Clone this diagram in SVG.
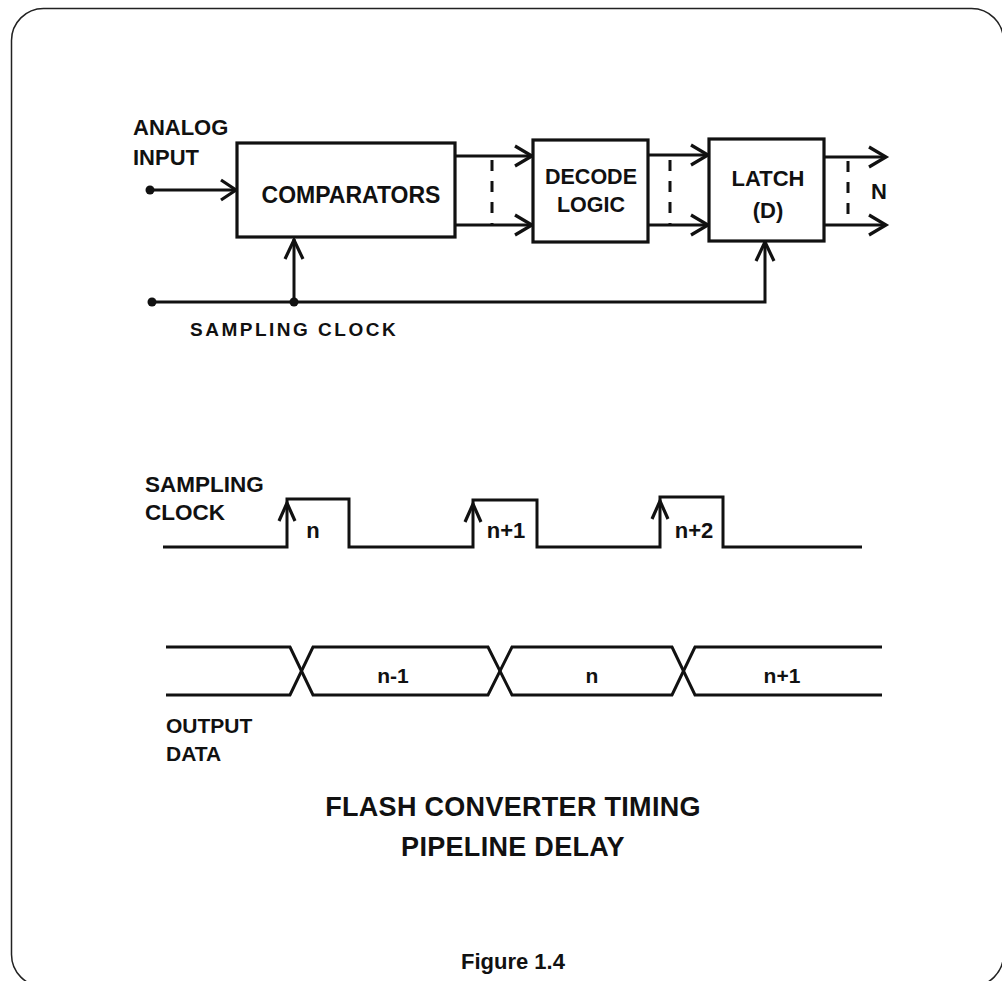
<svg xmlns="http://www.w3.org/2000/svg" width="1002" height="981" viewBox="0 0 1002 981">
<defs>
<style>
.ln{fill:none;stroke:#111;stroke-width:3;stroke-linejoin:miter}
.box{fill:#fff;stroke:#111;stroke-width:3.2}
.ah{fill:none;stroke:#111;stroke-width:3.2}
.dash{fill:none;stroke:#111;stroke-width:3;stroke-dasharray:11 10}
.t{font-family:"Liberation Sans",Arial,sans-serif;font-weight:bold;fill:#111}
.dot{fill:#111}
</style>
</defs>
<rect x="0" y="0" width="1002" height="981" fill="#fff"/>
<rect id="frame" x="11.5" y="8.5" width="992" height="978" rx="32" fill="none" stroke="#222" stroke-width="1.5"/>

<g id="connectors">
  <line class="ln" x1="150" y1="190" x2="236" y2="190"/>
  <polyline class="ah" points="221,180 236,190 221,200"/>
  <polyline class="ln" points="152,302 765,302 765,242"/>
  <line class="ln" x1="294" y1="302" x2="294" y2="239"/>
  <polyline class="ah" points="285,259 294,240 303,259"/>
  <polyline class="ah" points="756,261 765,242 774,261"/>
  <line class="ln" x1="455" y1="156" x2="532" y2="156"/>
  <line class="ln" x1="455" y1="225" x2="532" y2="225"/>
  <polyline class="ah" points="515,146 532,156 515,166"/>
  <polyline class="ah" points="515,215 532,225 515,235"/>
  <line class="dash" x1="492" y1="160" x2="492" y2="224"/>
  <line class="ln" x1="648" y1="155" x2="708" y2="155"/>
  <line class="ln" x1="648" y1="225" x2="708" y2="225"/>
  <polyline class="ah" points="691,145 708,155 691,165"/>
  <polyline class="ah" points="691,215 708,225 691,235"/>
  <line class="dash" x1="670" y1="160" x2="670" y2="224"/>
  <line class="ln" x1="824" y1="157" x2="886" y2="157"/>
  <line class="ln" x1="824" y1="225" x2="886" y2="225"/>
  <polyline class="ah" points="869,147 886,157 869,167"/>
  <polyline class="ah" points="869,215 886,225 869,235"/>
  <line class="dash" x1="848" y1="161" x2="848" y2="224"/>
</g>
<circle class="dot" cx="150" cy="190" r="4.5"/>
<circle class="dot" cx="152" cy="302" r="4.5"/>
<circle class="dot" cx="294" cy="302" r="4.5"/>

<g id="comparators">
  <rect class="box" x="237" y="143" width="218" height="94"/>
  <text class="t" x="351" y="203" font-size="23" text-anchor="middle">COMPARATORS</text>
</g>
<g id="decode">
  <rect class="box" x="533" y="140" width="115" height="102"/>
  <text class="t" x="591" y="184" font-size="21.5" text-anchor="middle">DECODE</text>
  <text class="t" x="591" y="212" font-size="21.5" text-anchor="middle">LOGIC</text>
</g>
<g id="latch">
  <rect class="box" x="709" y="139" width="115" height="102"/>
  <text class="t" x="768" y="186" font-size="22" text-anchor="middle">LATCH</text>
  <text class="t" x="768" y="218" font-size="22" text-anchor="middle">(D)</text>
</g>

<g id="labels-top">
  <text class="t" x="133" y="135" font-size="22">ANALOG</text>
  <text class="t" x="133" y="165" font-size="22">INPUT</text>
  <text class="t" x="871" y="199" font-size="22">N</text>
  <text class="t" x="190" y="336" font-size="19" letter-spacing="2.5">SAMPLING CLOCK</text>
</g>

<g id="clock-wave">
  <text class="t" x="145" y="492" font-size="22.5">SAMPLING</text>
  <text class="t" x="145" y="520" font-size="22.5">CLOCK</text>
  <polyline class="ln" points="163,547 287,547 287,499 349,499 349,547 473,547 473,500 537,500 537,547 660,547 660,497 723,497 723,547 862,547"/>
  <polyline class="ah" points="279,521 287,503 295,521"/>
  <polyline class="ah" points="465,522 473,504 481,522"/>
  <polyline class="ah" points="652,519 660,501 668,519"/>
  <text class="t" x="313" y="538" font-size="22" text-anchor="middle">n</text>
  <text class="t" x="506" y="538" font-size="22" text-anchor="middle">n+1</text>
  <text class="t" x="694" y="538" font-size="22" text-anchor="middle">n+2</text>
</g>

<g id="data-wave">
  <polyline class="ln" points="166,647 290,647 313,695 488,695 512,647 672,647 695,695 882,695"/>
  <polyline class="ln" points="166,695 290,695 313,647 488,647 512,695 672,695 695,647 882,647"/>
  <text class="t" x="393" y="683" font-size="21" text-anchor="middle">n-1</text>
  <text class="t" x="592" y="683" font-size="21" text-anchor="middle">n</text>
  <text class="t" x="782" y="683" font-size="21" text-anchor="middle">n+1</text>
  <text class="t" x="166" y="733" font-size="21">OUTPUT</text>
  <text class="t" x="166" y="761" font-size="21">DATA</text>
</g>

<g id="title">
  <text class="t" x="513" y="816" font-size="27" letter-spacing="0.3" text-anchor="middle">FLASH CONVERTER TIMING</text>
  <text class="t" x="513" y="856" font-size="27" letter-spacing="0.3" text-anchor="middle">PIPELINE DELAY</text>
  <text class="t" x="513" y="969" font-size="22" text-anchor="middle">Figure 1.4</text>
</g>
</svg>
